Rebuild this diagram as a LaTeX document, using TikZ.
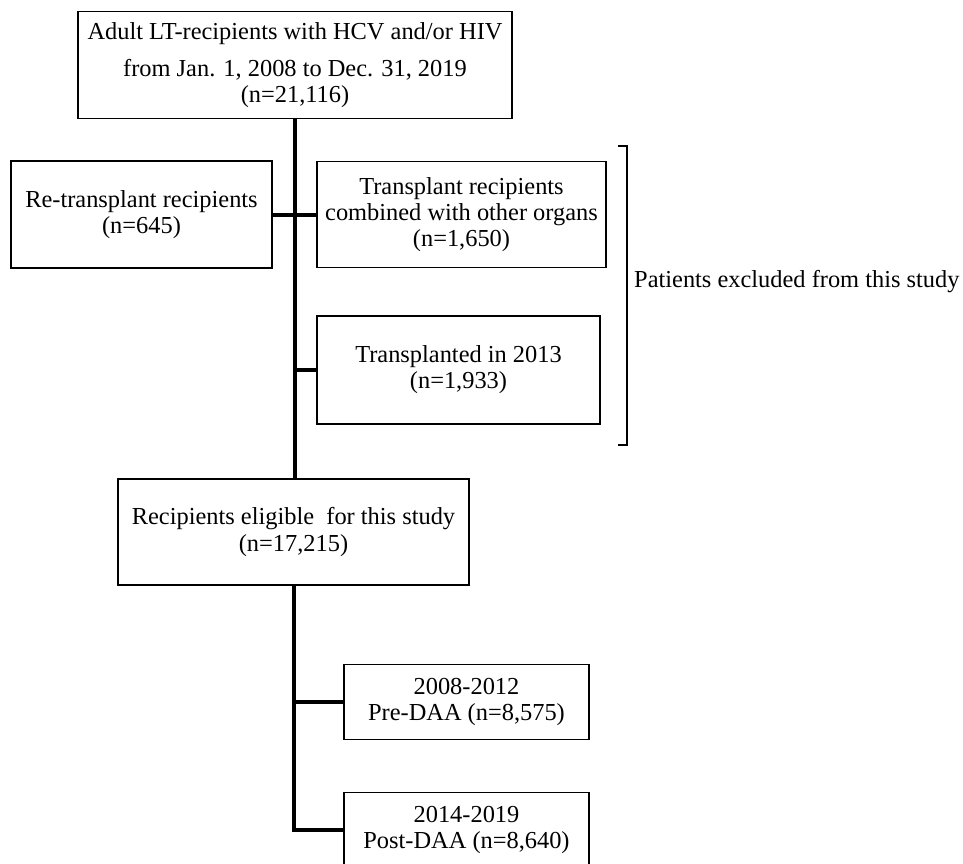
\documentclass[tikz,border=0pt]{standalone}
\usepackage{fontspec}
\setmainfont{Liberation Serif}
\begin{document}
\begin{tikzpicture}[x=1pt,y=-1pt,
  box/.style={draw, line width=1.4pt, align=center, inner sep=0pt, font=\fontsize{24.4}{26.2}\selectfont},
  conn/.style={line width=4pt},
  brk/.style={line width=1.4pt},
  lbl/.style={inner sep=0pt, font=\fontsize{24.4}{26.2}\selectfont}]
\useasboundingbox (0,0) rectangle (963,863);
\fill[white] (0,0) rectangle (963,863);
% boxes
\node[box, minimum width=434pt, minimum height=107pt] (top) at (295,65)
  {Adult LT-recipients with HCV and/or HIV\\[11pt] from Jan. 1, 2008 to Dec. 31, 2019\\ (n=21,116)};
\node[box, minimum width=261pt, minimum height=107pt] (retx) at (141.5,214.5)
  {Re-transplant recipients\\ (n=645)};
\node[box, minimum width=289pt, minimum height=106pt] (comb) at (461.5,214.5)
  {Transplant recipients\\ combined with other organs\\ (n=1,650)};
\node[box, minimum width=283pt, minimum height=108pt] (t2013) at (458.5,370)
  {Transplanted in 2013\\ (n=1,933)};
\node[box, minimum width=351pt, minimum height=106pt] (elig) at (293.5,532)
  {Recipients eligible~ for this study\\ (n=17,215)};
\node[box, minimum width=245pt, minimum height=75pt] (pre) at (466.5,702)
  {2008-2012\\ Pre-DAA (n=8,575)};
\node[box, minimum width=245pt, minimum height=75pt] (post) at (466.5,830)
  {2014-2019\\ Post-DAA (n=8,640)};
% connectors
\draw[conn] (top.south) -- (top.south |- elig.north);
\draw[conn] (retx) -- (comb);
\draw[conn] (t2013.west) -- (t2013.west -| top.south);
\draw[conn] (elig.south) |- (post.west);
\draw[conn] (pre.west) -- (pre.west -| elig.south);
% bracket
\coordinate (b1) at (618,146);
\coordinate (b2) at (627,146);
\coordinate (b3) at (627,445);
\coordinate (b4) at (618,445);
\draw[brk] (b1) -- (b2) -- (b3) -- (b4);
\node[lbl, anchor=west] (excl) at (634,282) {Patients excluded from this study};
\end{tikzpicture}
\end{document}
